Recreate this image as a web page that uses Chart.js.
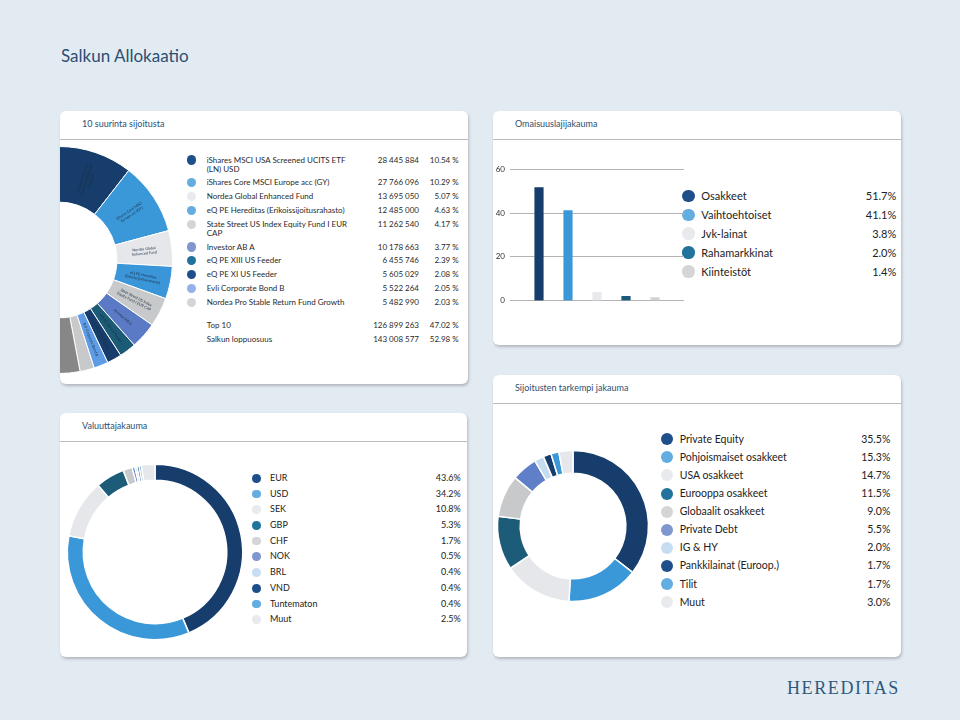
<!DOCTYPE html>
<html><head><meta charset="utf-8">
<script src="https://cdn.jsdelivr.net/npm/chart.js@4.4.0/dist/chart.umd.min.js"></script>
<style>
html,body{margin:0;padding:0}
body{width:960px;height:720px;background:#e3ebf2;position:relative;overflow:hidden;font-family:Lato,"Noto Sans",sans-serif;}
.card{position:absolute;background:#fff;border-radius:6px;box-shadow:1px 2px 3px rgba(0,0,0,0.22);}
.sep{position:absolute;left:0;right:0;height:1px;background:#b9bdc2}
.t{position:absolute;white-space:pre}
.dot{position:absolute;border-radius:50%}
canvas{position:absolute}
.clip{position:absolute;overflow:hidden;border-radius:6px}
</style></head><body>
<script>
// ---------------- DATA ----------------
const pageTitle = 'Salkun Allokaatio';
const cardTitles = ['10 suurinta sijoitusta', 'Omaisuuslajijakauma', 'Valuuttajakauma', 'Sijoitusten tarkempi jakauma'];

const holdingNames = [
  'iShares MSCI USA Screened UCITS ETF\n(LN) USD',
  'iShares Core MSCI Europe acc (GY)',
  'Nordea Global Enhanced Fund',
  'eQ PE Hereditas (Erikoissijoitusrahasto)',
  'State Street US Index Equity Fund I EUR\nCAP',
  'Investor AB A',
  'eQ PE XIII US Feeder',
  'eQ PE XI US Feeder',
  'Evli Corporate Bond B',
  'Nordea Pro Stable Return Fund Growth'
];
const holdingValues = [28445884, 27766096, 13695050, 12485000, 11262540, 10178663, 6455746, 5605029, 5522264, 5482990];
const holdingPct = [10.54, 10.29, 5.07, 4.63, 4.17, 3.77, 2.39, 2.08, 2.05, 2.03];
const totalNames = ['Top 10', 'Salkun loppuosuus'];
const totalValues = [126899263, 143008577];
const totalPct = [47.02, 52.98];

const assetLabels = ['Osakkeet', 'Vaihtoehtoiset', 'Jvk-lainat', 'Rahamarkkinat', 'Kiinteistöt'];
const assetPct = [51.7, 41.1, 3.8, 2.0, 1.4];
const assetTicks = [0, 20, 40, 60];

const currencyLabels = ['EUR', 'USD', 'SEK', 'GBP', 'CHF', 'NOK', 'BRL', 'VND', 'Tuntematon', 'Muut'];
const currencyPct = [43.6, 34.2, 10.8, 5.3, 1.7, 0.5, 0.4, 0.4, 0.4, 2.5];

const detailLabels = ['Private Equity', 'Pohjoismaiset osakkeet', 'USA osakkeet', 'Eurooppa osakkeet', 'Globaalit osakkeet', 'Private Debt', 'IG & HY', 'Pankkilainat (Euroop.)', 'Tilit', 'Muut'];
const detailPct = [35.5, 15.3, 14.7, 11.5, 9.0, 5.5, 2.0, 1.7, 1.7, 3.0];

const brand = 'HEREDITAS';

// ---------------- STYLES ----------------
const C = {navy:'#163d6b', blue:'#3b98d8', pale:'#e5e7eb', teal:'#1c5c78', gray:'#c8c9cb', peri:'#5f7fc8', paleBlue:'#c5dbf0', evli:'#5e9de6', rest:'#878787'};
const D = {navy:'#1f4f8b', blue:'#63ade0', pale:'#e9eaee', teal:'#22739c', gray:'#d5d5d7', peri:'#7f96cf', paleBlue:'#c7ddf2', evli:'#93b2ea'};
const topDonutColors = [C.navy, C.blue, C.pale, '#3a96d8', C.gray, '#5b7ac6', '#1b5b75', C.navy, C.evli, C.gray, C.rest];
const topDotColors = [D.navy, D.blue, D.pale, D.blue, D.gray, D.peri, D.teal, D.navy, D.evli, D.gray];
const barColors = [C.navy, C.blue, '#e7e9ec', '#1b5a78', '#d3d3d5'];
const barDotColors = [D.navy, D.blue, D.pale, D.teal, D.gray];
const ringColors = [C.navy, C.blue, C.pale, C.teal, C.gray, C.peri, C.paleBlue, C.navy, C.blue, C.pale];
const ringDotColors = [D.navy, D.blue, D.pale, D.teal, D.gray, D.peri, D.paleBlue, D.navy, D.blue, D.pale];

// ---------------- HELPERS ----------------
const body = document.body;
function el(tag, cls, css, parent) {
  const e = document.createElement(tag);
  if (cls) e.className = cls;
  Object.assign(e.style, css || {});
  (parent || body).appendChild(e);
  return e;
}
// text with the visual middle of its first line at yc
function txt(text, x, yc, size, color, opts) {
  opts = opts || {};
  const lh = opts.lh || size * 1.2;
  const css = {top: (yc - lh / 2) + 'px', fontSize: size + 'px', lineHeight: lh + 'px', color: color};
  if (opts.align === 'right') css.right = (960 - x) + 'px'; else css.left = x + 'px';
  if (opts.family) css.fontFamily = opts.family;
  if (opts.ls) css.letterSpacing = opts.ls + 'px';
  const e = el('div', 't', css);
  e.textContent = text;
  return e;
}
function dot(x, y, d, color) {
  el('div', 'dot', {left: (x - d / 2) + 'px', top: (y - d / 2) + 'px', width: d + 'px', height: d + 'px', background: color});
}
const fmtNum = v => String(v).replace(/\B(?=(\d{3})+(?!\d))/g, ' ');

// ---------------- LAYOUT ----------------
txt(pageTitle, 61, 56, 17, '#2b4f72');
const cards = [
  {x: 60, y: 111, w: 408, h: 273},
  {x: 493, y: 111, w: 408, h: 234},
  {x: 60, y: 413, w: 407, h: 244},
  {x: 493, y: 375, w: 408, h: 282}
];
cards.forEach((c, i) => {
  const d = el('div', 'card', {left: c.x + 'px', top: c.y + 'px', width: c.w + 'px', height: c.h + 'px'});
  el('div', 'sep', {top: '28px'}, d);
  txt(cardTitles[i], c.x + 22, c.y + 13.6, 9, '#2b4f72');
});
txt(brand, 787, 688.9, 18, '#2f5a7e', {family: '"Liberation Serif", serif', ls: 1.6});

// top-left legend
(function () {
  let y = 160;
  const fs = 8, col = '#2a2a2a';
  holdingNames.forEach((n, i) => {
    dot(191.7, y, 9.3, topDotColors[i]);
    txt(n, 206.7, y, fs, col, {lh: 9});
    txt(fmtNum(holdingValues[i]), 419, y, fs, col, {lh: 9, align: 'right'});
    txt(holdingPct[i].toFixed(2) + ' %', 458.7, y, fs, col, {lh: 9, align: 'right'});
    y += n.split('\n').length * 9 + 4.8;
  });
  const ty = [325.7, 339];
  totalNames.forEach((n, i) => {
    txt(n, 206.7, ty[i], fs, col, {lh: 9});
    txt(fmtNum(totalValues[i]), 419, ty[i], fs, col, {lh: 9, align: 'right'});
    txt(totalPct[i].toFixed(2) + ' %', 458.7, ty[i], fs, col, {lh: 9, align: 'right'});
  });
})();

// top-right legend
assetLabels.forEach((n, i) => {
  const y = 196 + i * 18.9;
  dot(688.7, y, 12.7, barDotColors[i]);
  txt(n, 701.3, y, 11, '#222');
  txt(assetPct[i].toFixed(1) + '%', 896.3, y, 11, '#222', {align: 'right'});
});
// bottom-left legend
currencyLabels.forEach((n, i) => {
  const y = 478.3 + i * 15.7;
  dot(256.7, y, 8.7, ringDotColors[i]);
  txt(n, 270, y, 9, '#222');
  txt(currencyPct[i].toFixed(1) + '%', 460.7, y, 9, '#222', {align: 'right'});
});
// bottom-right legend
detailLabels.forEach((n, i) => {
  const y = 439.3 + i * 18.07;
  dot(667, y, 12, ringDotColors[i]);
  txt(n, 679.7, y, 10.5, '#222');
  txt(detailPct[i].toFixed(1) + '%', 890.3, y, 10.5, '#222', {align: 'right'});
});

// ---------------- CHARTS ----------------
function canvasAt(x, y, w, h, parent) {
  const c = el('canvas', null, {left: x + 'px', top: y + 'px', width: w + 'px', height: h + 'px'}, parent);
  c.width = w; c.height = h;
  return c;
}
const common = {responsive: false, animation: false, events: [], plugins: {legend: {display: false}, tooltip: {enabled: false}}};

function wrapText(ctx, text, maxW) {
  const words = text.split(/\s+/); const lines = []; let cur = '';
  words.forEach(w => {
    const test = cur ? cur + ' ' + w : w;
    if (ctx.measureText(test).width > maxW && cur) { lines.push(cur); cur = w; } else cur = test;
  });
  if (cur) lines.push(cur);
  return lines;
}
const sliceLabels = {
  id: 'sliceLabels',
  afterDatasetsDraw(chart) {
    const ctx = chart.ctx;
    const meta = chart.getDatasetMeta(0);
    ctx.save();
    ctx.font = '3.7px Lato';
    ctx.textAlign = 'center';
    ctx.textBaseline = 'middle';
    meta.data.forEach((arc, i) => {
      if (i >= holdingNames.length - 1) return;
      const p = arc.getProps(['startAngle', 'endAngle', 'innerRadius', 'outerRadius', 'x', 'y'], true);
      const mid = (p.startAngle + p.endAngle) / 2;
      const r = (p.innerRadius + p.outerRadius) / 2;
      const lines = wrapText(ctx, holdingNames[i].replace('\n', ' '), (p.outerRadius - p.innerRadius) * 0.72);
      ctx.save();
      ctx.translate(p.x + Math.cos(mid) * r, p.y + Math.sin(mid) * r);
      ctx.rotate(mid);
      ctx.fillStyle = '#1c2e44';
      lines.forEach((ln, k) => ctx.fillText(ln, 0, (k - (lines.length - 1) / 2) * 4.4));
      ctx.restore();
    });
    ctx.restore();
  }
};

// top-left donut (clipped by the card)
const clip = el('div', 'clip', {left: '60px', top: '111px', width: '408px', height: '273px'});
new Chart(canvasAt(-121.4, 29, 240, 240, clip), {
  type: 'doughnut',
  data: {labels: holdingNames.concat([totalNames[1]]), datasets: [{
    data: holdingPct.concat([totalPct[1]]), backgroundColor: topDonutColors,
    borderColor: '#ffffff', borderWidth: 1, hoverOffset: 0, offset: 0
  }]},
  options: Object.assign({}, common, {radius: 113.5, cutout: '51%'}),
  plugins: [sliceLabels]
});

// bar chart
new Chart(canvasAt(493, 140, 200, 175), {
  type: 'bar',
  data: {datasets: [{
    data: assetPct.map((v, i) => ({x: i + 1, y: v})),
    backgroundColor: barColors, barThickness: 8.5, borderWidth: 0
  }]},
  options: Object.assign({}, common, {
    layout: {padding: {top: 29.3, right: 9, bottom: 14.3, left: 0}},
    scales: {
      x: {type: 'linear', offset: false, min: 0, max: 6, display: false, grid: {offset: false}},
      y: {
        min: 0, max: 60,
        afterBuildTicks: s => { s.ticks = assetTicks.map(v => ({value: v})); },
        afterFit: s => { s.width = 17; },
        grid: {color: '#b3b3b3', lineWidth: 1, drawTicks: false},
        border: {display: false},
        ticks: {padding: 5, color: '#333', font: {size: 8, family: 'Lato'}}
      }
    }
  })
});

// currency donut
new Chart(canvasAt(60, 456.7, 190, 190), {
  type: 'doughnut',
  data: {labels: currencyLabels, datasets: [{
    data: currencyPct, backgroundColor: ringColors, borderColor: '#ffffff', borderWidth: 1.5, hoverOffset: 0
  }]},
  options: Object.assign({}, common, {radius: 87.7, cutout: '81.8%'})
});

// detail donut
new Chart(canvasAt(487.5, 441, 170, 170), {
  type: 'doughnut',
  data: {labels: detailLabels, datasets: [{
    data: detailPct, backgroundColor: ringColors, borderColor: '#ffffff', borderWidth: 1.5, hoverOffset: 0
  }]},
  options: Object.assign({}, common, {radius: 75.5, cutout: '70%'})
});
</script>
</body></html>
